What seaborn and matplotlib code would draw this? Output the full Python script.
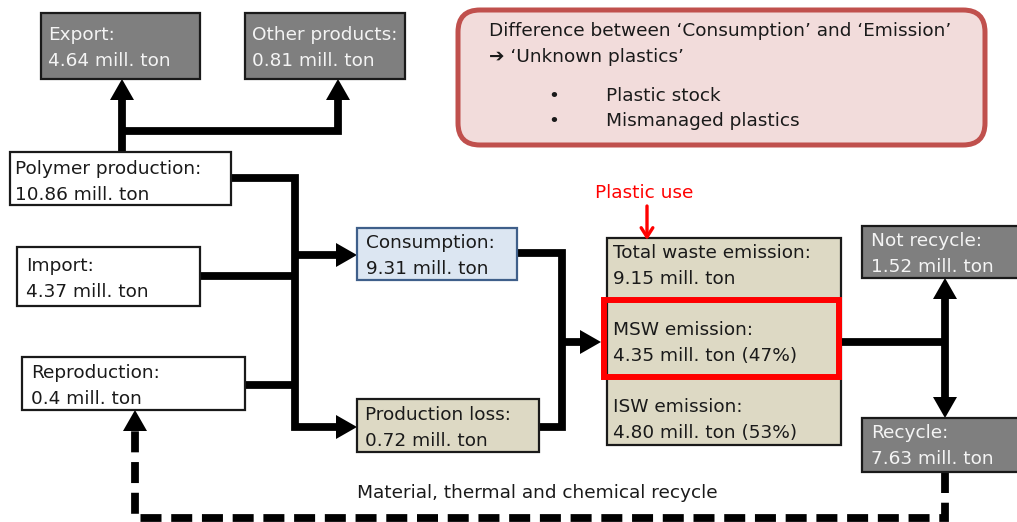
import seaborn as sns
import matplotlib.pyplot as plt
from matplotlib.patches import Rectangle, FancyBboxPatch, Polygon

# flow nodes and their amounts (mill. ton)
node_names = ['Export', 'Other products', 'Polymer production', 'Import',
              'Reproduction', 'Consumption', 'Production loss',
              'Total waste emission', 'MSW emission', 'ISW emission',
              'Not recycle', 'Recycle']
node_values = [4.64, 0.81, 10.86, 4.37, 0.4, 9.31, 0.72, 9.15, 4.35, 4.80, 1.52, 7.63]
node_decimals = [2, 2, 2, 2, 1, 2, 2, 2, 2, 2, 2, 2]
waste_shares = {'MSW emission': 47, 'ISW emission': 53}

note_title = ['Difference between \u2018Consumption\u2019 and \u2018Emission\u2019',
              '\u2794 \u2018Unknown plastics\u2019']
note_items = ['Plastic stock', 'Mismanaged plastics']
recycle_label = 'Material, thermal and chemical recycle'
use_label = 'Plastic use'

# layout in pixels: box (x0, y0, x1, y1) or None, text anchor (x, first baseline), style
layout = {
    'Export': ((41, 13, 200, 79), (48, 40), 'dark'),
    'Other products': ((245, 13, 405, 79), (252, 40), 'dark'),
    'Polymer production': ((10, 152, 231, 205), (15, 174), 'white'),
    'Import': ((17, 247, 200, 306), (26, 271), 'white'),
    'Reproduction': ((22, 357, 245, 410), (31, 378), 'white'),
    'Consumption': ((357, 228, 517, 280), (366, 248), 'blue'),
    'Production loss': ((357, 399, 539, 452), (365, 420), 'tan'),
    'Total waste emission': ((607, 238, 841, 445), (613, 258), 'tan'),
    'MSW emission': (None, (613, 335), 'tan'),
    'ISW emission': (None, (613, 412), 'tan'),
    'Not recycle': ((862, 226, 1030, 278), (871, 246), 'dark'),
    'Recycle': ((862, 418, 1030, 472), (871, 438), 'dark'),
}
styles = {
    'dark': ('#7f7f7f', '#1a1a1a', '#f4f4f4'),
    'white': ('#ffffff', '#1a1a1a', '#1a1a1a'),
    'blue': ('#dce6f2', '#3f5f8a', '#1a1a1a'),
    'tan': ('#ddd9c4', '#1a1a1a', '#1a1a1a'),
}

sns.set_theme(style='white')
plt.rcParams['font.family'] = ['DejaVu Sans']

fig = plt.figure(figsize=(10.17, 5.22), dpi=100)
ax = fig.add_axes([0, 0, 1, 1])
ax.set_xlim(0, 1017)
ax.set_ylim(522, 0)
ax.axis('off')

FS = 13.3
LW = 5.6


def arrowhead(tip, direction, color='black', size=(24, 21)):
    w, l = size
    x, y = tip
    if direction == 'up':
        pts = [(x, y), (x - w / 2, y + l), (x + w / 2, y + l)]
    elif direction == 'down':
        pts = [(x, y), (x - w / 2, y - l), (x + w / 2, y - l)]
    else:
        pts = [(x, y), (x - l, y - w / 2), (x - l, y + w / 2)]
    ax.add_patch(Polygon(pts, closed=True, fc=color, ec='none', zorder=4))


def line(xs, ys, **kw):
    ax.plot(xs, ys, color='black', lw=LW, solid_joinstyle='miter',
            solid_capstyle='butt', zorder=3, **kw)


# connectors
line([122, 122], [152, 99])
line([338, 338, 122], [99, 131, 131])
arrowhead((122, 79), 'up')
arrowhead((338, 79), 'up')

line([231, 295, 295, 337], [178, 178, 427, 427])
line([200, 295], [276, 276])
line([245, 295], [385, 385])
line([295, 337], [255, 255])
arrowhead((357, 255), 'right')
arrowhead((357, 427), 'right')

line([517, 562, 562, 539], [253, 253, 427, 427])
line([562, 582], [342, 342])
arrowhead((601, 342), 'right')

line([842, 945], [342, 342])
line([945, 945], [298, 398])
arrowhead((945, 278), 'up')
arrowhead((945, 418), 'down')

# dashed recycle loop
ax.plot([945, 945, 135, 135], [472, 518, 518, 431], color='black', lw=LW,
        dashes=(2.7, 1.25), dash_joinstyle='miter', dash_capstyle='butt', zorder=3)
arrowhead((135, 410), 'up')
ax.text(357, 498, recycle_label, fontsize=FS, color='#1a1a1a', va='baseline')

# boxes and labels
for name, value, dec in zip(node_names, node_values, node_decimals):
    box, (tx, ty), style = layout[name]
    fc, ec, tc = styles[style]
    if box is not None:
        x0, y0, x1, y1 = box
        ax.add_patch(Rectangle((x0, y0), x1 - x0, y1 - y0, fc=fc, ec=ec,
                               lw=1.6, zorder=5))
    second = f'{value:.{dec}f} mill. ton'
    if name in waste_shares:
        second += f' ({waste_shares[name]}%)'
    ax.text(tx, ty, name + ':', fontsize=FS, color=tc, va='baseline', zorder=7)
    ax.text(tx, ty + 26, second, fontsize=FS, color=tc, va='baseline', zorder=7)

# highlighted MSW part
ax.add_patch(Rectangle((604, 300), 235, 77, fc='none', ec='#ff0000', lw=4.3, zorder=6))

# plastic use marker
ax.text(644, 198, use_label, fontsize=FS, color='#ff0000', ha='center', va='baseline')
ax.annotate('', xy=(647, 240), xytext=(647, 206),
            arrowprops=dict(arrowstyle='->,head_length=0.55,head_width=0.35',
                            color='#ff0000', lw=2.4, shrinkA=0, shrinkB=0), zorder=8)

# note box
ax.add_patch(FancyBboxPatch((458, 10), 527, 135, boxstyle='round,pad=0,rounding_size=22',
                            fc='#f2dcdb', ec='#c0504d', lw=3.6, zorder=2))
ax.text(489, 36, note_title[0], fontsize=FS, color='#1a1a1a', va='baseline')
ax.text(489, 62, note_title[1], fontsize=FS, color='#1a1a1a', va='baseline')
for i, item in enumerate(note_items):
    ax.text(548, 101 + 25 * i, '\u2022', fontsize=FS, color='#1a1a1a', va='baseline')
    ax.text(606, 101 + 25 * i, item, fontsize=FS, color='#1a1a1a', va='baseline')

fig.savefig('out.png', dpi=100)
